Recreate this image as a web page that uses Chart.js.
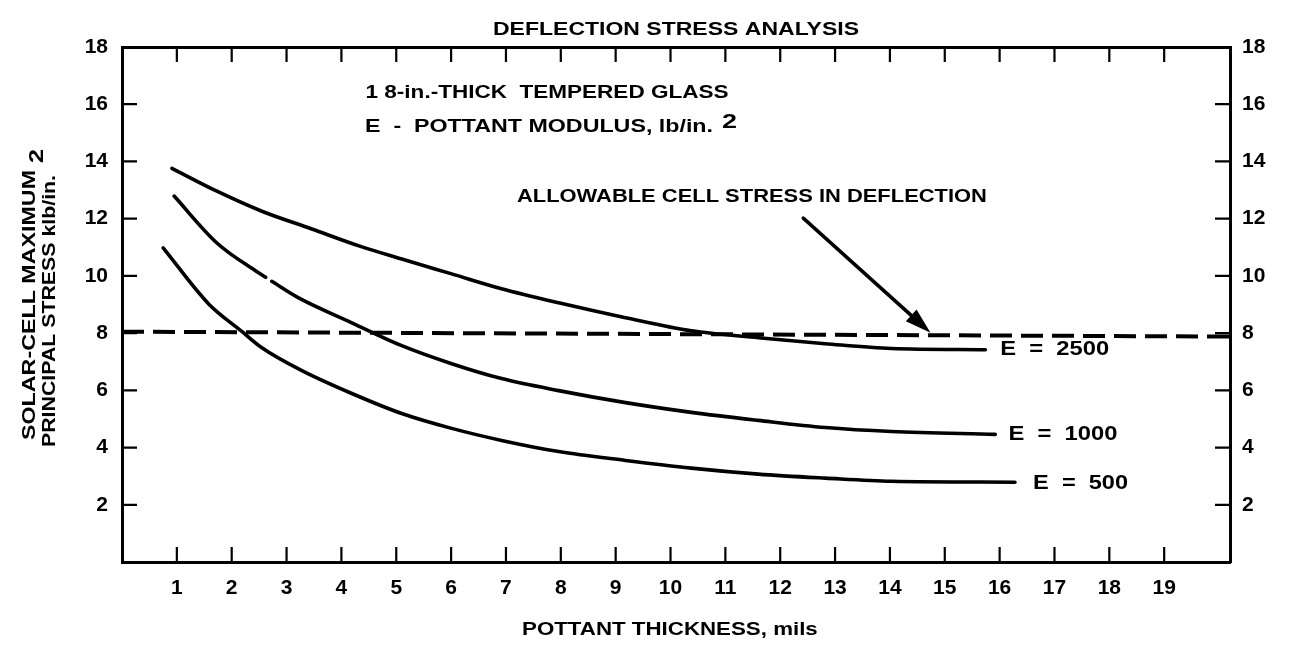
<!DOCTYPE html>
<html>
<head>
<meta charset="utf-8">
<script src="https://cdn.jsdelivr.net/npm/chart.js@4.4.1/dist/chart.umd.min.js"></script>
<style>
  html, body { margin: 0; padding: 0; background: #fff; }
  #wrap { width: 1292px; height: 646px; position: relative; }
</style>
</head>
<body>
<div id="wrap"><canvas id="stressChart"></canvas></div>
<script>
// values
const xTicks = [1, 2, 3, 4, 5, 6, 7, 8, 9, 10, 11, 12, 13, 14, 15, 16, 17, 18, 19];
const yTicks = [2, 4, 6, 8, 10, 12, 14, 16, 18];

const thickness2500 = [0.91, 1.73, 2.55, 3.46, 4.32, 5.10, 6.01, 6.92, 7.96, 9.18, 10.38, 11.60, 12.82, 14.03, 15.74];
const stress2500 = [13.76, 12.96, 12.26, 11.64, 11.05, 10.59, 10.07, 9.55, 9.06, 8.54, 8.08, 7.84, 7.63, 7.46, 7.42];

// the printed E = 1000 curve has a small break near 2.7 mils
const thickness1000 = [0.95, 1.73, 2.44, 2.62, 2.67, 2.73, 3.22, 4.19, 5.10, 6.01, 6.92, 7.96, 9.18, 10.38, 11.60, 12.82, 14.03, 15.92];
const stress1000 = [12.79, 11.15, 10.17, 9.95, null, 9.81, 9.23, 8.36, 7.56, 6.93, 6.41, 5.99, 5.57, 5.23, 4.95, 4.70, 4.56, 4.46];

const thickness500 = [0.75, 1.58, 2.19, 2.55, 3.28, 4.19, 5.10, 6.01, 6.92, 7.96, 9.18, 10.38, 11.60, 12.82, 14.03, 16.28];
const stress500 = [10.98, 9.02, 8.05, 7.49, 6.69, 5.89, 5.19, 4.67, 4.25, 3.86, 3.55, 3.28, 3.07, 2.93, 2.82, 2.79];

const thicknessLimit = [0, 20.2];
const stressLimit = [8.05, 7.88];

const seriesNames = ['E = 2500', 'E = 1000', 'E = 500'];

const toPoints = (xs, ys) => xs.map((x, i) => ({ x: x, y: ys[i] }));

const FONT = "'Liberation Sans', Arial, sans-serif";

// draw a left-anchored string squeezed/stretched to a given width
const fitText = (ctx, text, x, y, width, font) => {
    ctx.font = font;
    const w = ctx.measureText(text).width;
    ctx.save();
    ctx.translate(x, y);
    ctx.scale(width / w, 1);
    ctx.fillText(text, 0, 0);
    ctx.restore();
};

const inwardTicks = {
    id: 'inwardTicks',
    afterDraw(chart) {
        const { ctx, chartArea: a, scales } = chart;
        const len = 15;
        ctx.save();
        ctx.strokeStyle = '#000';
        ctx.lineWidth = 2.2;
        ctx.beginPath();
        scales.x.ticks.filter(t => xTicks.includes(t.value)).forEach(t => {
            const px = scales.x.getPixelForValue(t.value);
            ctx.moveTo(px, a.bottom); ctx.lineTo(px, a.bottom - len);
            ctx.moveTo(px, a.top); ctx.lineTo(px, a.top + len);
        });
        scales.y.ticks.filter(t => yTicks.includes(t.value) && t.value < 18).forEach(t => {
            const py = scales.y.getPixelForValue(t.value);
            ctx.moveTo(a.left, py); ctx.lineTo(a.left + len, py);
            ctx.moveTo(a.right, py); ctx.lineTo(a.right - len, py);
        });
        ctx.stroke();
        ctx.restore();
    }
};

const annotations = {
    id: 'annotations',
    afterDraw(chart) {
        const { ctx, chartArea: a, scales } = chart;
        const X = v => scales.x.getPixelForValue(v);
        const Y = v => scales.y.getPixelForValue(v);
        const mid = (a.left + a.right) / 2;
        ctx.save();
        ctx.fillStyle = '#000';
        ctx.textBaseline = 'middle';
        ctx.textAlign = 'left';

        // title
        fitText(ctx, 'DEFLECTION STRESS ANALYSIS', mid - 183, 30, 366, `bold 18px ${FONT}`);

        // notes
        fitText(ctx, '1 8-in.-THICK  TEMPERED GLASS', X(4.44), Y(16.39), 363, `bold 18px ${FONT}`);
        fitText(ctx, 'E  -  POTTANT MODULUS, lb/in.', X(4.43), Y(15.2), 348, `bold 18px ${FONT}`);
        fitText(ctx, '2', X(10.94), Y(15.38), 15, `bold 21px ${FONT}`);
        fitText(ctx, 'ALLOWABLE CELL STRESS IN DEFLECTION', X(7.2), Y(12.76), 470, `bold 18px ${FONT}`);

        // curve labels
        fitText(ctx, 'E  =  ' + seriesNames[0].split('= ')[1], X(16.01), Y(7.44), 109, `bold 21px ${FONT}`);
        fitText(ctx, 'E  =  ' + seriesNames[1].split('= ')[1], X(16.16), Y(4.47), 109, `bold 21px ${FONT}`);
        fitText(ctx, 'E  =  ' + seriesNames[2].split('= ')[1], X(16.61), Y(2.76), 95, `bold 21px ${FONT}`);

        // arrow to the allowable line
        const x0 = X(12.42), y0 = Y(12.02), x1 = X(14.74), y1 = Y(8.01);
        const ang = Math.atan2(y1 - y0, x1 - x0);
        const head = 26, half = 8;
        const bx = x1 - head * Math.cos(ang), by = y1 - head * Math.sin(ang);
        ctx.strokeStyle = '#000';
        ctx.lineWidth = 3.5;
        ctx.lineCap = 'round';
        ctx.beginPath();
        ctx.moveTo(x0, y0);
        ctx.lineTo(bx, by);
        ctx.stroke();
        ctx.beginPath();
        ctx.moveTo(x1, y1);
        ctx.lineTo(bx + half * Math.sin(ang), by - half * Math.cos(ang));
        ctx.lineTo(bx - half * Math.sin(ang), by + half * Math.cos(ang));
        ctx.closePath();
        ctx.fill();

        // x axis title
        ctx.font = `bold 18px ${FONT}`;
        const sx = 178 / ctx.measureText('POTTANT THICK').width;
        const xTitle = 'POTTANT THICKNESS, mils';
        fitText(ctx, xTitle, 522, 630, ctx.measureText(xTitle).width * sx, `bold 18px ${FONT}`);

        // y axis title (two rotated lines)
        ctx.save();
        ctx.translate(29.5, 440);
        ctx.rotate(-Math.PI / 2);
        fitText(ctx, 'SOLAR-CELL MAXIMUM', 0, 0, 270, `bold 19px ${FONT}`);
        ctx.restore();
        ctx.save();
        ctx.translate(50, 447);
        ctx.rotate(-Math.PI / 2);
        fitText(ctx, 'PRINCIPAL STRESS klb/in.', 0, 0, 272, `bold 19px ${FONT}`);
        fitText(ctx, '2', 284, -13, 14, `bold 20px ${FONT}`);
        ctx.restore();

        ctx.restore();
    }
};

const tickFont = { family: FONT, size: 21, weight: 'bold' };
const lineStyle = {
    showLine: true,
    pointRadius: 0,
    borderColor: '#000',
    backgroundColor: '#000',
    borderWidth: 3.6,
    borderCapStyle: 'round',
    tension: 0.4,
    cubicInterpolationMode: 'monotone',
    spanGaps: false
};

new Chart(document.getElementById('stressChart'), {
    type: 'scatter',
    data: {
        datasets: [
            { ...lineStyle, label: seriesNames[0], data: toPoints(thickness2500, stress2500) },
            { ...lineStyle, label: seriesNames[1], data: toPoints(thickness1000, stress1000) },
            { ...lineStyle, label: seriesNames[2], data: toPoints(thickness500, stress500) },
            { ...lineStyle, label: 'Allowable', data: toPoints(thicknessLimit, stressLimit),
              tension: 0, borderWidth: 4, borderDash: [22, 9], borderCapStyle: 'butt' }
        ]
    },
    options: {
        responsive: true,
        maintainAspectRatio: false,
        animation: false,
        layout: { padding: 0 },
        plugins: { legend: { display: false }, tooltip: { enabled: false } },
        scales: {
            x: {
                type: 'linear', position: 'bottom', min: 0, max: 20.2,
                grid: { display: false, drawTicks: false },
                border: { display: true, color: '#000', width: 3 },
                ticks: {
                    stepSize: 1, padding: 14, color: '#000', font: tickFont, maxRotation: 0,
                    callback: v => xTicks.includes(v) ? String(v) : null
                },
                afterFit: s => { s.height = 84; }
            },
            x2: {
                type: 'linear', position: 'top', min: 0, max: 20.2,
                grid: { display: false, drawTicks: false },
                border: { display: true, color: '#000', width: 3 },
                ticks: { display: false },
                afterFit: s => { s.height = 47; }
            },
            y: {
                type: 'linear', position: 'left', min: 0, max: 18,
                grid: { display: false, drawTicks: false },
                border: { display: true, color: '#000', width: 3 },
                ticks: {
                    stepSize: 2, padding: 14, color: '#000', font: tickFont,
                    callback: v => yTicks.includes(v) ? String(v) : null
                },
                afterFit: s => { s.width = 122; }
            },
            y2: {
                type: 'linear', position: 'right', min: 0, max: 18,
                grid: { display: false, drawTicks: false },
                border: { display: true, color: '#000', width: 3 },
                ticks: {
                    stepSize: 2, padding: 12, color: '#000', font: tickFont,
                    callback: v => yTicks.includes(v) ? String(v) : null
                },
                afterFit: s => { s.width = 62; }
            }
        }
    },
    plugins: [inwardTicks, annotations]
});
</script>
</body>
</html>
